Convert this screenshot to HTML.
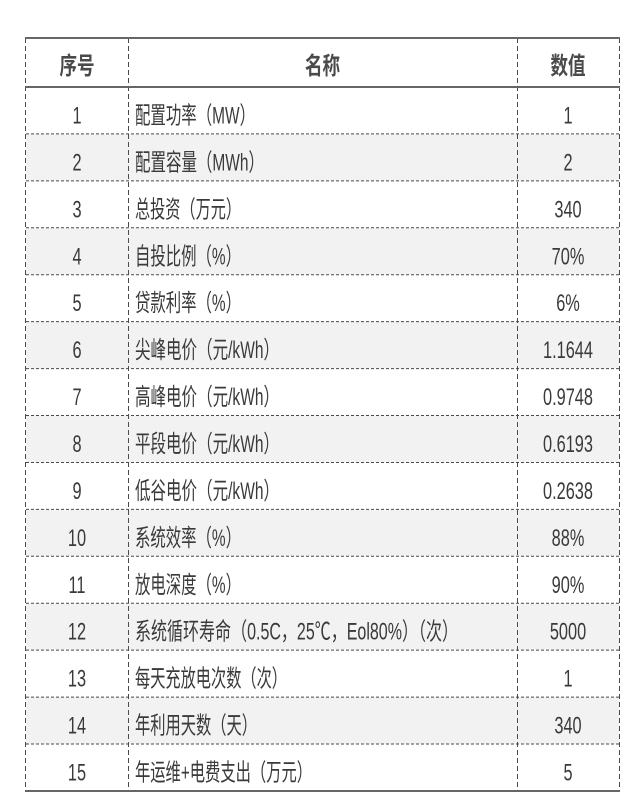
<!DOCTYPE html>
<html>
<head>
<meta charset="utf-8">
<style>
html,body{margin:0;padding:0;background:#fff;}
svg{display:block;}
text{font-family:"Liberation Sans","Noto Sans CJK SC",sans-serif;fill:#3a3a3a;}
.h{font-weight:bold;fill:#4a4a4a;font-size:24px;}
.b{font-size:24px;}
</style>
</head>
<body>
<svg width="640" height="800" viewBox="0 0 640 800" xmlns="http://www.w3.org/2000/svg">
<rect x="0" y="0" width="640" height="800" fill="#fff"/>
<g fill="#f2f2f2">
<rect x="26" y="133.93" width="593" height="46.93"/>
<rect x="26" y="227.79" width="593" height="46.93"/>
<rect x="26" y="321.65" width="593" height="46.93"/>
<rect x="26" y="415.51" width="593" height="46.93"/>
<rect x="26" y="509.37" width="593" height="46.93"/>
<rect x="26" y="603.23" width="593" height="46.93"/>
<rect x="26" y="697.09" width="593" height="46.93"/>
</g>
<g stroke="#4a4a4a" stroke-width="1" stroke-dasharray="3 2">
<line x1="26" x2="619" y1="133.93" y2="133.93"/>
<line x1="26" x2="619" y1="180.86" y2="180.86"/>
<line x1="26" x2="619" y1="227.79" y2="227.79"/>
<line x1="26" x2="619" y1="274.72" y2="274.72"/>
<line x1="26" x2="619" y1="321.65" y2="321.65"/>
<line x1="26" x2="619" y1="368.58" y2="368.58"/>
<line x1="26" x2="619" y1="415.51" y2="415.51"/>
<line x1="26" x2="619" y1="462.44" y2="462.44"/>
<line x1="26" x2="619" y1="509.37" y2="509.37"/>
<line x1="26" x2="619" y1="556.3" y2="556.3"/>
<line x1="26" x2="619" y1="603.23" y2="603.23"/>
<line x1="26" x2="619" y1="650.16" y2="650.16"/>
<line x1="26" x2="619" y1="697.09" y2="697.09"/>
<line x1="26" x2="619" y1="744.02" y2="744.02"/>
</g>
<g stroke="#4a4a4a" stroke-width="1" stroke-dasharray="5 3">
<line x1="25.5" x2="25.5" y1="38" y2="791"/>
<line x1="128.5" x2="128.5" y1="38" y2="791"/>
<line x1="517.5" x2="517.5" y1="38" y2="791"/>
<line x1="619.5" x2="619.5" y1="38" y2="791"/>
</g>
<g stroke="#666" stroke-width="2">
<line x1="25" x2="620" y1="38" y2="38"/>
<line x1="25" x2="620" y1="87" y2="87"/>
<line x1="25" x2="620" y1="791" y2="791"/>
</g>
<text class="h" text-anchor="middle" transform="translate(77,74) scale(0.73,1)">序号</text>
<text class="h" text-anchor="middle" transform="translate(322.5,74) scale(0.73,1)">名称</text>
<text class="h" text-anchor="middle" transform="translate(568,74) scale(0.73,1)">数值</text>

<g class="b" text-anchor="middle">
<text transform="translate(77,123.5) scale(0.68,1)">1</text>
<text transform="translate(77,170.4) scale(0.68,1)">2</text>
<text transform="translate(77,217.4) scale(0.68,1)">3</text>
<text transform="translate(77,264.3) scale(0.68,1)">4</text>
<text transform="translate(77,311.2) scale(0.68,1)">5</text>
<text transform="translate(77,358.2) scale(0.68,1)">6</text>
<text transform="translate(77,405.1) scale(0.68,1)">7</text>
<text transform="translate(77,452.0) scale(0.68,1)">8</text>
<text transform="translate(77,498.9) scale(0.68,1)">9</text>
<text transform="translate(77,545.9) scale(0.68,1)">10</text>
<text transform="translate(77,592.8) scale(0.68,1)">11</text>
<text transform="translate(77,639.7) scale(0.68,1)">12</text>
<text transform="translate(77,686.7) scale(0.68,1)">13</text>
<text transform="translate(77,733.6) scale(0.68,1)">14</text>
<text transform="translate(77,780.5) scale(0.68,1)">15</text>
</g>

<g class="b">
<text x="135" y="123.5" textLength="120" lengthAdjust="spacingAndGlyphs">配置功率（MW）</text>
<text x="135" y="170.4" textLength="129" lengthAdjust="spacingAndGlyphs">配置容量（MWh）</text>
<text x="135" y="217.4" textLength="106" lengthAdjust="spacingAndGlyphs">总投资（万元）</text>
<text x="135" y="264.3" textLength="106" lengthAdjust="spacingAndGlyphs">自投比例（%）</text>
<text x="135" y="311.2" textLength="106" lengthAdjust="spacingAndGlyphs">贷款利率（%）</text>
<text x="135" y="358.2" textLength="144" lengthAdjust="spacingAndGlyphs">尖峰电价（元/kWh）</text>
<text x="135" y="405.1" textLength="144" lengthAdjust="spacingAndGlyphs">高峰电价（元/kWh）</text>
<text x="135" y="452.0" textLength="144" lengthAdjust="spacingAndGlyphs">平段电价（元/kWh）</text>
<text x="135" y="498.9" textLength="144" lengthAdjust="spacingAndGlyphs">低谷电价（元/kWh）</text>
<text x="135" y="545.9" textLength="106" lengthAdjust="spacingAndGlyphs">系统效率（%）</text>
<text x="135" y="592.8" textLength="106" lengthAdjust="spacingAndGlyphs">放电深度（%）</text>
<text x="135" y="639.7" textLength="323" lengthAdjust="spacingAndGlyphs">系统循环寿命（0.5C，25℃，Eol80%）（次）</text>
<text x="135" y="686.7" textLength="152" lengthAdjust="spacingAndGlyphs">每天充放电次数（次）</text>
<text x="135" y="733.6" textLength="122" lengthAdjust="spacingAndGlyphs">年利用天数（天）</text>
<text x="135" y="780.5" textLength="177" lengthAdjust="spacingAndGlyphs">年运维+电费支出（万元）</text>
</g>

<g class="b" text-anchor="middle">
<text transform="translate(568,123.5) scale(0.68,1)">1</text>
<text transform="translate(568,170.4) scale(0.68,1)">2</text>
<text transform="translate(568,217.4) scale(0.68,1)">340</text>
<text transform="translate(568,264.3) scale(0.68,1)">70%</text>
<text transform="translate(568,311.2) scale(0.68,1)">6%</text>
<text transform="translate(568,358.2) scale(0.68,1)">1.1644</text>
<text transform="translate(568,405.1) scale(0.68,1)">0.9748</text>
<text transform="translate(568,452.0) scale(0.68,1)">0.6193</text>
<text transform="translate(568,498.9) scale(0.68,1)">0.2638</text>
<text transform="translate(568,545.9) scale(0.68,1)">88%</text>
<text transform="translate(568,592.8) scale(0.68,1)">90%</text>
<text transform="translate(568,639.7) scale(0.68,1)">5000</text>
<text transform="translate(568,686.7) scale(0.68,1)">1</text>
<text transform="translate(568,733.6) scale(0.68,1)">340</text>
<text transform="translate(568,780.5) scale(0.68,1)">5</text>
</g>
</svg>
</body>
</html>
